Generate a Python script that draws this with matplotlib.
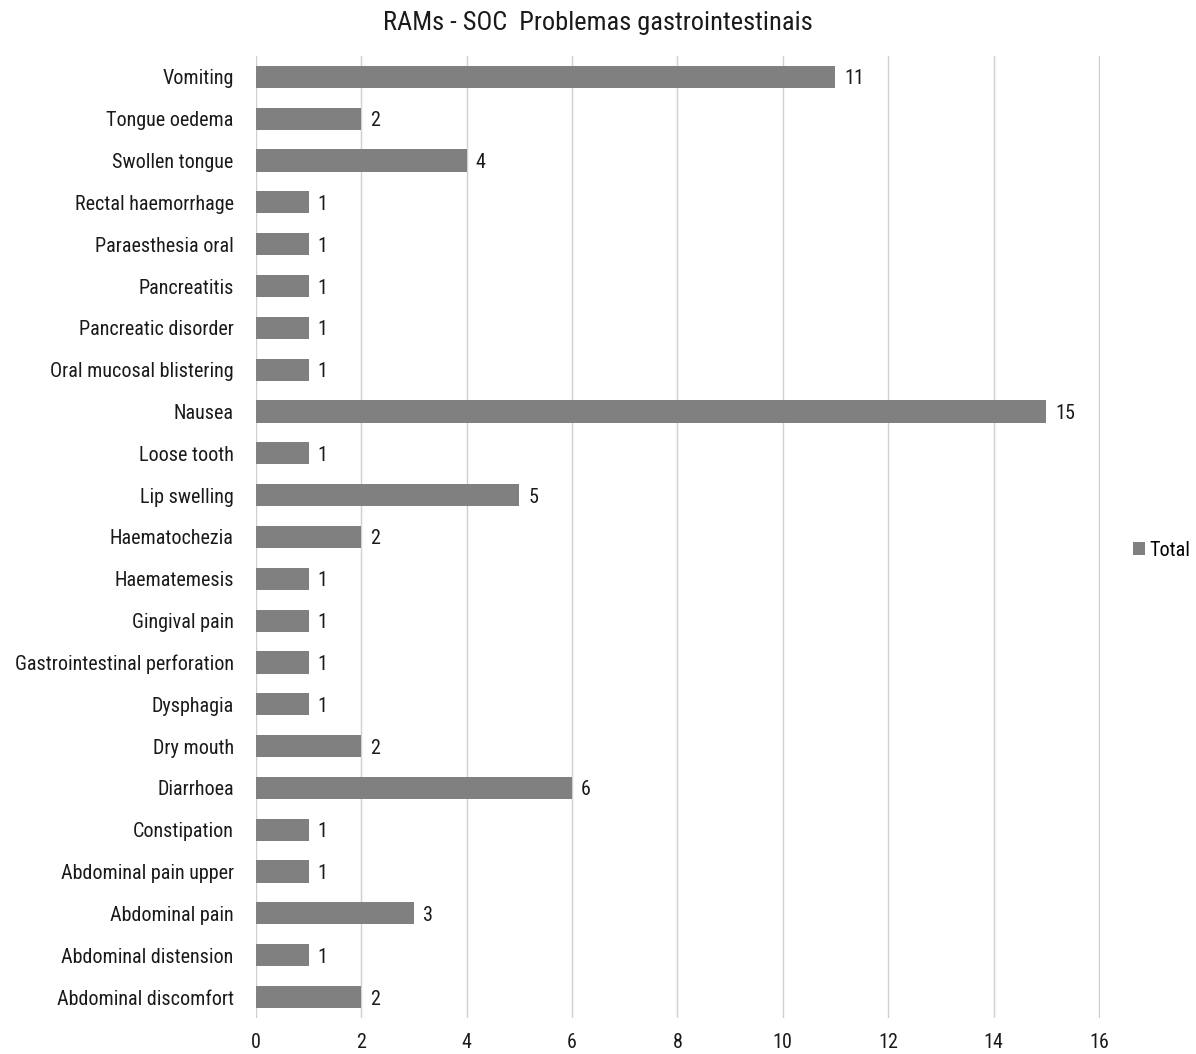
import numpy as np
import matplotlib.pyplot as plt

plt.rcParams['font.family'] = ['Roboto Condensed', 'Liberation Sans Narrow', 'Roboto', 'DejaVu Sans']

# categories listed top to bottom
categories = [
    "Vomiting", "Tongue oedema", "Swollen tongue", "Rectal haemorrhage",
    "Paraesthesia oral", "Pancreatitis", "Pancreatic disorder",
    "Oral mucosal blistering", "Nausea", "Loose tooth", "Lip swelling",
    "Haematochezia", "Haematemesis", "Gingival pain",
    "Gastrointestinal perforation", "Dysphagia", "Dry mouth", "Diarrhoea",
    "Constipation", "Abdominal pain upper", "Abdominal pain",
    "Abdominal distension", "Abdominal discomfort",
]
totals = [11, 2, 4, 1, 1, 1, 1, 1, 15, 1, 5, 2, 1, 1, 1, 1, 2, 6, 1, 1, 3, 1, 2]
xticks = [0, 2, 4, 6, 8, 10, 12, 14, 16]

fs = 14.5
fig = plt.figure(figsize=(11.96, 10.54), dpi=100)
ax = fig.add_axes([0.214, 0.0342, 0.7057, 0.9127])

y = np.arange(len(categories))
bars = ax.barh(y, totals, height=0.53, color='#808080', label='Total', zorder=3)
for b, v in zip(bars, totals):
    ax.text(b.get_width() + 0.17, b.get_y() + b.get_height() / 2, str(v),
            va='center_baseline', ha='left', fontsize=fs, color='#1a1a1a')

ax.set_yticks(y)
ax.set_yticklabels(categories, fontsize=fs, color='#1a1a1a')
ax.set_ylim(len(categories) - 0.5, -0.5)
ax.set_xlim(0, 16.02)
ax.set_xticks(xticks)
ax.set_xticklabels([str(t) for t in xticks], fontsize=fs, color='#1a1a1a')
ax.tick_params(length=0, axis='y', pad=16)
ax.tick_params(length=0, axis='x', pad=11)
ax.grid(axis='x', color='#d0d0d0', linewidth=1, zorder=0)
for s in ax.spines.values():
    s.set_visible(False)

fig.suptitle("RAMs - SOC  Problemas gastrointestinais", fontsize=19,
             color='#1a1a1a', y=0.99)
fig.legend(loc='center left', bbox_to_anchor=(0.947, 0.478), frameon=False,
           fontsize=fs, handlelength=0.6, handleheight=0.6, handletextpad=0.25,
           borderaxespad=0, borderpad=0)

fig.savefig('out.png', dpi=100)
